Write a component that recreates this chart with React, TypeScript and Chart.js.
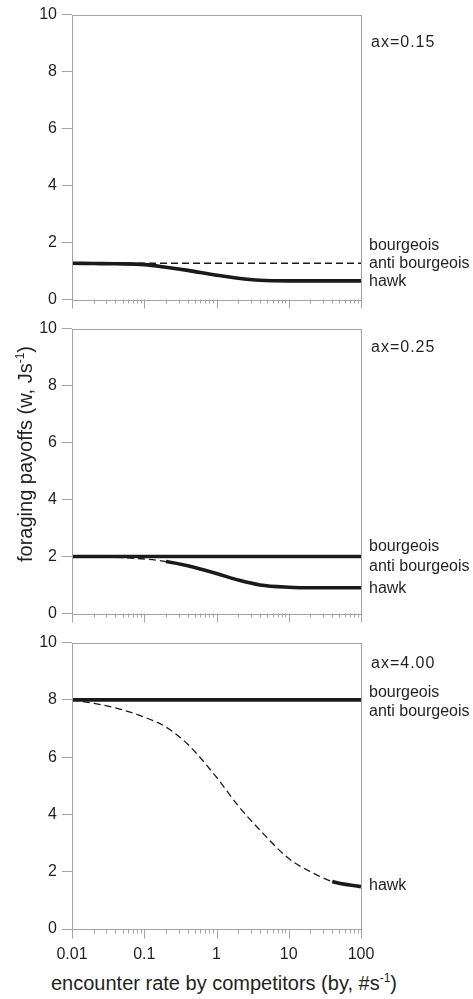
import React, { useEffect, useRef } from "react";
import { Chart, registerables } from "chart.js";

Chart.register(...registerables);

// ---------- data ----------
const X_VALUES = [0.01, 0.02, 0.04, 0.1, 0.2, 0.4, 1, 2, 4, 10, 20, 40, 100];
const X_TICK_LABELS = ["0.01", "0.1", "1", "10", "100"];
const Y_MIN = 0;
const Y_MAX = 10;
const Y_STEP = 2;

const HAWK_015 = [1.27, 1.26, 1.25, 1.22, 1.13, 1.02, 0.85, 0.74, 0.67, 0.65, 0.65, 0.65, 0.65];
const BOURGEOIS_015 = [1.27, 1.27, 1.27, 1.27, 1.27, 1.27, 1.27, 1.27, 1.27, 1.27, 1.27, 1.27, 1.27];

const HAWK_025 = [2.0, 1.99, 1.97, 1.91, 1.82, 1.67, 1.4, 1.17, 1.0, 0.92, 0.9, 0.9, 0.9];
const BOURGEOIS_025 = [2.0, 2.0, 2.0, 2.0, 2.0, 2.0, 2.0, 2.0, 2.0, 2.0, 2.0, 2.0, 2.0];

const HAWK_400 = [8.0, 7.88, 7.72, 7.4, 7.05, 6.45, 5.3, 4.3, 3.45, 2.46, 2.0, 1.66, 1.48];
const BOURGEOIS_400 = [8.0, 8.0, 8.0, 8.0, 8.0, 8.0, 8.0, 8.0, 8.0, 8.0, 8.0, 8.0, 8.0];

const PANEL_TITLES = ["ax=0.15", "ax=0.25", "ax=4.00"];
const STRATEGY_LABELS = ["bourgeois", "anti bourgeois", "hawk"];
// x from which the hawk curve is drawn solid (stable) in each panel
const HAWK_SOLID_FROM = [0.01, 0.2, 40];
const BOURGEOIS_SOLID = [false, true, true];

const X_TITLE = "encounter rate by competitors (by, #s";
const Y_TITLE = "foraging payoffs (w, Js";
const UNIT_SUP = "-1";

// ---------- layout / style ----------
const FONT = '"Liberation Sans", Arial, Helvetica, sans-serif';
const TEXT_COLOR = "#231f20";
const AXIS_COLOR = "#a3a3a3";
const LINE_COLOR = "#1a1a1a";
const THICK = 3.6;
const THIN = 1.3;
const DASH = [7, 4];

const W = 473;
const PLOT_LEFT = 72;
const PLOT_RIGHT = 361;

type PanelLayout = {
  top: number;
  height: number;
  padTop: number;
  padBottom: number;
  xAxisHeight: number;
  labelY: number[]; // anchors (data units) for title, bourgeois, anti bourgeois, hawk
};

const LAYOUTS: PanelLayout[] = [
  { top: 0, height: 314, padTop: 13, padBottom: 12, xAxisHeight: 0, labelY: [9.03, 1.9, 1.25, 0.62] },
  { top: 314, height: 314, padTop: 12, padBottom: 12, xAxisHeight: 0, labelY: [9.34, 2.34, 1.66, 0.86] },
  { top: 628, height: 340, padTop: 14, padBottom: 0, xAxisHeight: 39, labelY: [9.27, 8.26, 7.6, 1.5] },
];

const PANEL_DATA = [
  { hawk: HAWK_015, bourgeois: BOURGEOIS_015 },
  { hawk: HAWK_025, bourgeois: BOURGEOIS_025 },
  { hawk: HAWK_400, bourgeois: BOURGEOIS_400 },
];

const framePlugin = {
  id: "frameAndLabels",
  afterDraw(chart: any, _args: any, opts: any) {
    const { ctx, chartArea: a, scales } = chart;
    const xs = scales.x;
    const ys = scales.y;
    ctx.save();
    ctx.strokeStyle = AXIS_COLOR;
    ctx.lineWidth = 1;
    ctx.strokeRect(Math.round(a.left) + 0.5, Math.round(a.top) + 0.5, Math.round(a.right - a.left), Math.round(a.bottom - a.top));
    // x tick marks (major decades long, minor short)
    const bottom = Math.round(a.bottom) + 0.5;
    ctx.beginPath();
    for (let e = -2; e <= 2; e++) {
      for (let k = 1; k <= 9; k++) {
        const v = k * Math.pow(10, e);
        if (v > 100.0001) break;
        const px = Math.round(xs.getPixelForValue(v)) + 0.5;
        const len = k === 1 ? 9 : 4;
        ctx.moveTo(px, bottom);
        ctx.lineTo(px, bottom + len);
      }
    }
    ctx.stroke();
    // right-side labels
    ctx.fillStyle = TEXT_COLOR;
    ctx.font = `16px ${FONT}`;
    ctx.textAlign = "left";
    ctx.textBaseline = "middle";
    const lx = a.right + 8;
    try {
      (ctx as any).letterSpacing = "1px";
    } catch (e) {}
    ctx.fillText(opts.title, lx + 2, ys.getPixelForValue(opts.labelY[0]));
    try {
      (ctx as any).letterSpacing = "0px";
    } catch (e) {}
    STRATEGY_LABELS.forEach((t, i) => {
      ctx.fillText(t, lx, ys.getPixelForValue(opts.labelY[i + 1]));
    });
    ctx.restore();
  },
};

function Panel({ index }: { index: number }) {
  const ref = useRef<HTMLCanvasElement>(null);
  useEffect(() => {
    const L = LAYOUTS[index];
    const d = PANEL_DATA[index];
    const solidFrom = HAWK_SOLID_FROM[index];
    const bSolid = BOURGEOIS_SOLID[index];
    const isBottom = index === LAYOUTS.length - 1;
    const pts = (arr: number[]) => X_VALUES.map((x, i) => ({ x, y: arr[i] }));
    const chart = new Chart(ref.current as HTMLCanvasElement, {
      type: "line",
      data: {
        datasets: [
          {
            label: "hawk",
            data: pts(d.hawk),
            borderColor: LINE_COLOR,
            borderWidth: THIN,
            pointRadius: 0,
            cubicInterpolationMode: "monotone",
            fill: false,
            segment: {
              borderWidth: (c: any) => (c.p0.parsed.x >= solidFrom - 1e-9 ? THICK : THIN),
              borderDash: (c: any) => (c.p0.parsed.x >= solidFrom - 1e-9 ? [] : DASH),
            },
          } as any,
          {
            label: "bourgeois",
            data: pts(d.bourgeois),
            borderColor: LINE_COLOR,
            borderWidth: bSolid ? THICK : THIN,
            borderDash: bSolid ? [] : DASH,
            pointRadius: 0,
            fill: false,
          },
        ],
      },
      options: {
        responsive: false,
        animation: false,
        devicePixelRatio: 1,
        layout: { padding: { top: L.padTop, bottom: L.padBottom, left: 0, right: W - PLOT_RIGHT } },
        plugins: {
          legend: { display: false },
          tooltip: { enabled: false },
          frameAndLabels: { title: PANEL_TITLES[index], labelY: L.labelY },
        } as any,
        scales: {
          x: {
            type: "logarithmic",
            min: 0.01,
            max: 100,
            display: isBottom,
            afterFit: (s: any) => {
              s.height = L.xAxisHeight;
            },
            grid: { display: false, drawTicks: false },
            border: { display: false },
            ticks: {
              autoSkip: false,
              maxRotation: 0,
              minRotation: 0,
              padding: 16,
              color: TEXT_COLOR,
              font: { family: FONT, size: 16 },
              callback: (value: any) => {
                const l = Math.log10(Number(value));
                if (Math.abs(l - Math.round(l)) < 1e-6) {
                  const idx = Math.round(l) + 2;
                  return X_TICK_LABELS[idx] ?? "";
                }
                return "";
              },
            },
          },
          y: {
            min: Y_MIN,
            max: Y_MAX,
            afterFit: (s: any) => {
              s.width = PLOT_LEFT;
            },
            grid: { display: true, drawOnChartArea: false, drawTicks: true, tickLength: 10, color: AXIS_COLOR },
            border: { display: false },
            ticks: {
              stepSize: Y_STEP,
              padding: 5,
              color: TEXT_COLOR,
              font: { family: FONT, size: 16 },
            },
          },
        },
      } as any,
      plugins: [framePlugin],
    });
    return () => chart.destroy();
  }, [index]);
  const L = LAYOUTS[index];
  return (
    <canvas
      ref={ref}
      width={W}
      height={L.height}
      style={{ position: "absolute", left: 0, top: L.top, width: W, height: L.height, display: "block" }}
    />
  );
}

export default function App() {
  const sup: React.CSSProperties = { fontSize: 12, verticalAlign: "super", lineHeight: 0 };
  return (
    <div style={{ position: "fixed", left: 0, top: 0, width: W, height: 999, background: "#fff", overflow: "hidden", fontFamily: FONT, color: TEXT_COLOR }}>
      {LAYOUTS.map((_, i) => (
        <Panel key={i} index={i} />
      ))}
      <div
        style={{
          position: "absolute",
          left: 25 - 160,
          top: 454 - 12,
          width: 320,
          height: 24,
          lineHeight: "24px",
          fontSize: 20,
          textAlign: "center",
          transform: "rotate(-90deg)",
          transformOrigin: "50% 50%",
          whiteSpace: "nowrap",
        }}
      >
        {Y_TITLE}
        <span style={sup}>{UNIT_SUP}</span>)
      </div>
      <div
        style={{
          position: "absolute",
          left: 0,
          top: 983 - 12,
          width: 448,
          height: 24,
          lineHeight: "24px",
          fontSize: 20,
          textAlign: "center",
          whiteSpace: "nowrap",
        }}
      >
        {X_TITLE}
        <span style={sup}>{UNIT_SUP}</span>)
      </div>
    </div>
  );
}
